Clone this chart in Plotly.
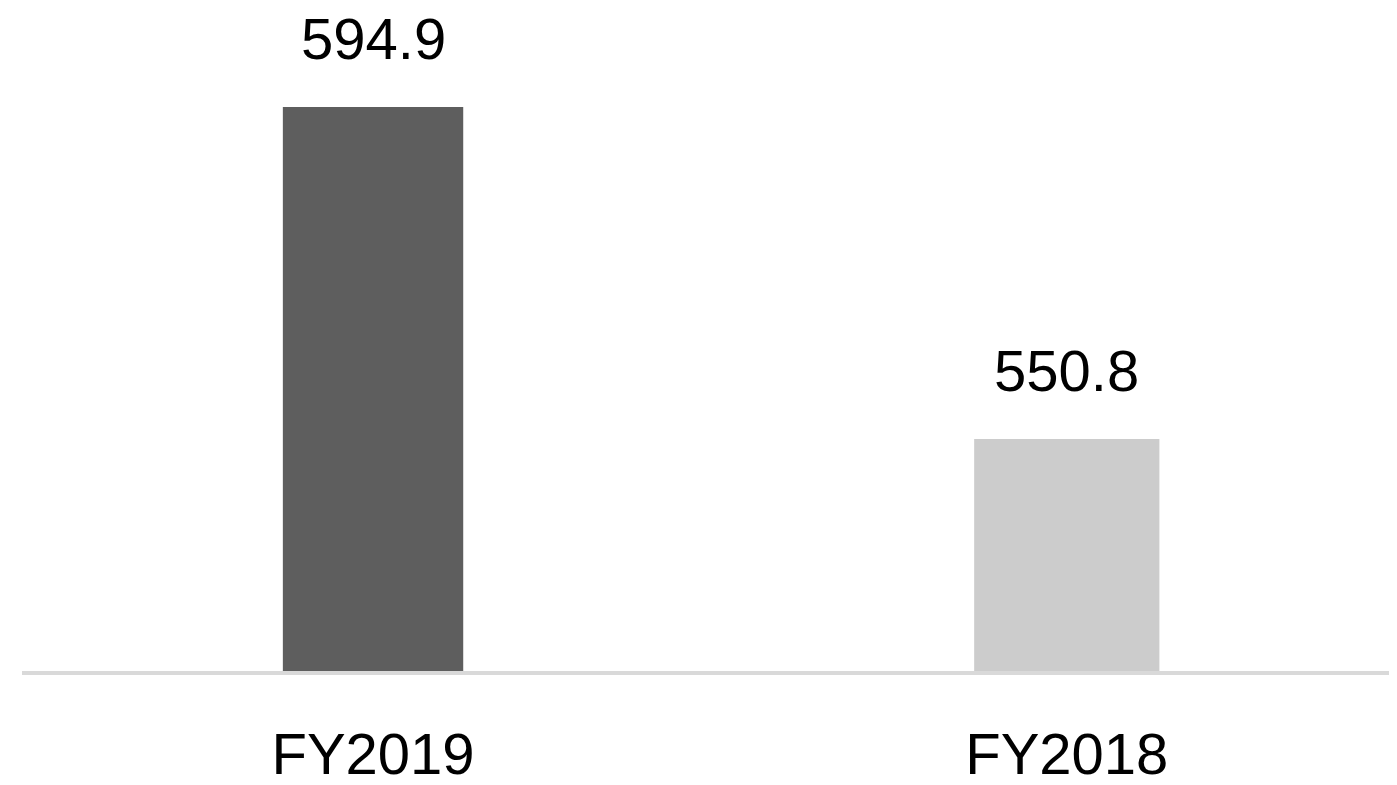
import plotly.graph_objects as go

categories = ["FY2019", "FY2018"]
values = [594.9, 550.8]
bar_colors = ["#5e5e5e", "#cccccc"]
value_labels = ["594.9", "550.8"]

FONT = "Liberation Sans"

fig = go.Figure()
fig.add_trace(go.Bar(
    x=categories,
    y=values,
    marker=dict(color=bar_colors, line=dict(width=0)),
    width=[0.26, 0.267],
    hoverinfo="skip",
))

for c, v, t in zip(categories, values, value_labels):
    fig.add_annotation(
        x=c, y=v, text=t, showarrow=False,
        yanchor="bottom", yshift=34,
        font=dict(family=FONT, size=58, color="#000000"),
    )

fig.update_layout(
    width=1397, height=785,
    margin=dict(l=14, r=8, t=0, b=122, autoexpand=False),
    paper_bgcolor="white", plot_bgcolor="white",
    showlegend=False,
    xaxis=dict(
        type="category",
        automargin=False,
        range=[-0.506, 1.476],
        showline=True, linecolor="#d9d9d9", linewidth=4,
        showgrid=False, zeroline=False,
        ticks="outside", ticklen=29, tickcolor="rgba(0,0,0,0)",
        tickfont=dict(family=FONT, size=58, color="#000000"),
    ),
    yaxis=dict(
        range=[520, 608.04],
        visible=False,
        automargin=False,
        showgrid=False, zeroline=False,
    ),
)

fig.write_html("out.html")
